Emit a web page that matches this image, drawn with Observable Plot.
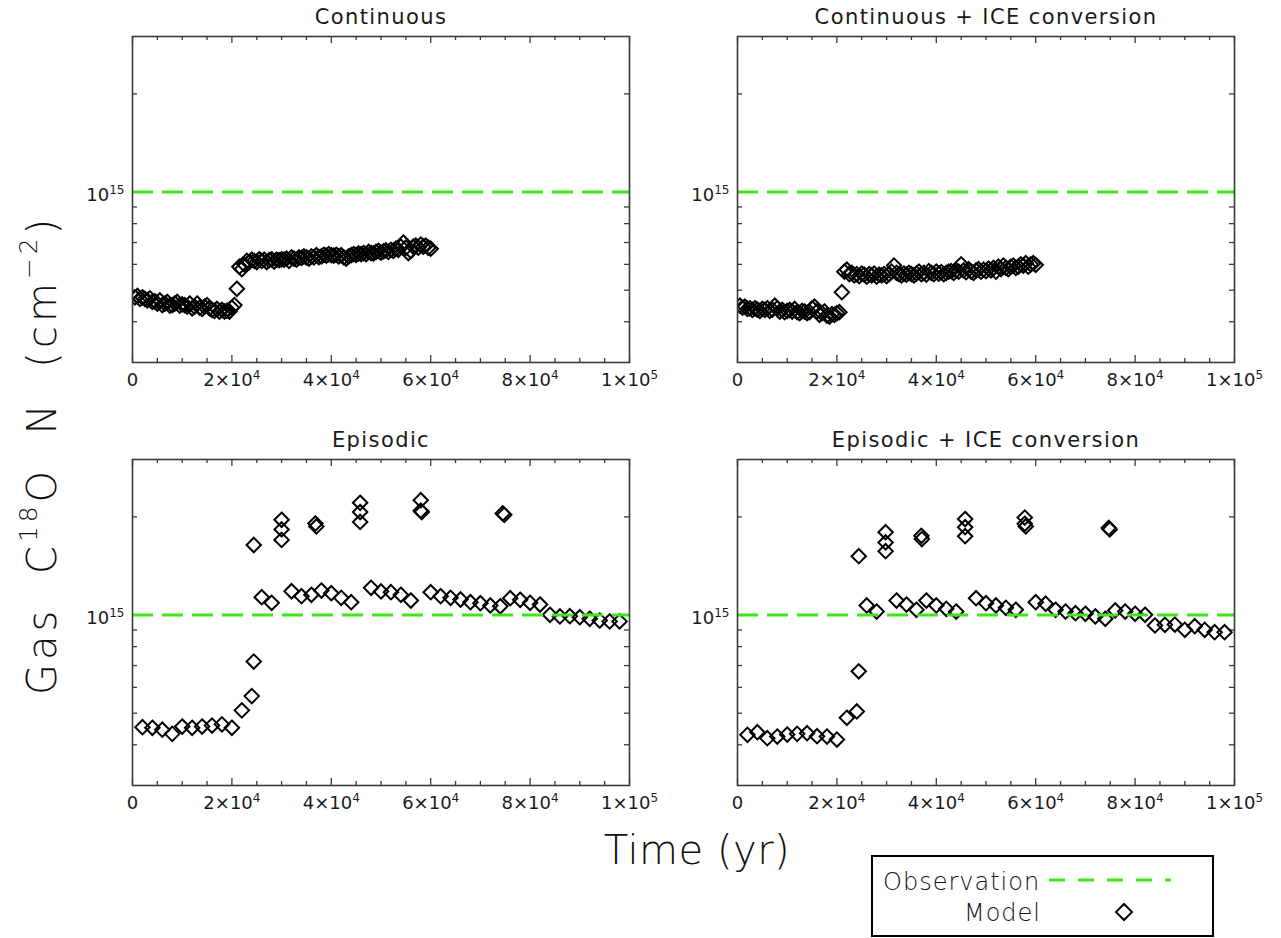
<!DOCTYPE html>
<html><head><meta charset="utf-8">
<script src="https://cdn.jsdelivr.net/npm/d3@7"></script>
<script src="https://cdn.jsdelivr.net/npm/@observablehq/plot@0.6"></script>
<style>
body{margin:0;background:#fff;}
#wrap{position:relative;width:1281px;height:938px;overflow:hidden;font-family:"DejaVu Sans",sans-serif;font-weight:200;color:#111;}
.panel{position:absolute;}
.panel svg text, svg.panel text{font-weight:400;}
.ptitle{letter-spacing:1.4px;}
.lab{position:absolute;white-space:nowrap;font-weight:200;}
.lab sup{font-size:0.62em;vertical-align:0.75em;line-height:0;}
</style></head><body><div id="wrap"></div>
<script>
// ---------- data ----------
const panelTitles = ["Continuous", "Continuous + ICE conversion", "Episodic", "Episodic + ICE conversion"];
const obsLevel = 1e15;           // observed column density
const unit = 1e14;               // model values below are in units of 1e14 cm^-2

// continuous runs: model sampled every 500 yr from 500 to 60000 yr
const contTimes = d3.range(500, 60001, 500);
const contValues = [
  4.75, 4.8, 4.7, 4.75, 4.7, 4.65, 4.72, 4.6,
  4.62, 4.55, 4.65, 4.5, 4.55, 4.6, 4.48, 4.5, 4.55, 4.6, 4.48, 4.52,
  4.5, 4.45, 4.55, 4.4, 4.45, 4.55, 4.42, 4.38, 4.45, 4.5,
  4.4, 4.35, 4.32, 4.38, 4.3, 4.35, 4.3, 4.33, 4.3, 4.42,
  4.5, 5.05, 5.9, 5.8,
  6.0, 6.15, 6.1, 6.2, 6.15, 6.1, 6.22, 6.15, 6.2, 6.1, 6.18, 6.22, 6.12, 6.2, 6.18, 6.22,
  6.2, 6.25, 6.15, 6.3, 6.25, 6.2, 6.3, 6.28, 6.35, 6.3, 6.25, 6.35, 6.3, 6.4, 6.32, 6.35, 6.42, 6.38, 6.45, 6.4,
  6.38, 6.42, 6.35, 6.4, 6.3, 6.25, 6.35, 6.4, 6.45, 6.42, 6.48, 6.45, 6.5, 6.45, 6.55, 6.5, 6.48, 6.55, 6.6, 6.52,
  6.58, 6.62, 6.55, 6.65, 6.6, 6.7, 6.65, 6.8, 7.0, 6.75,
  6.5, 6.6, 6.8, 6.85, 6.75, 6.9, 6.8, 6.85, 6.75, 6.7
];
const contIceValues = [
  4.48, 4.42, 4.45, 4.38, 4.4, 4.35, 4.4, 4.36,
  4.32, 4.38, 4.35, 4.4, 4.32, 4.36, 4.48, 4.4, 4.3, 4.35, 4.28, 4.32,
  4.35, 4.3, 4.38, 4.28, 4.25, 4.32, 4.3, 4.25, 4.28, 4.4,
  4.45, 4.3, 4.2, 4.25, 4.3, 4.18, 4.15, 4.22, 4.2, 4.25,
  4.28, 4.93, 5.7, 5.78,
  5.6, 5.65, 5.55, 5.6, 5.52, 5.62, 5.58, 5.5, 5.6, 5.55, 5.62, 5.5, 5.58, 5.55, 5.6, 5.52,
  5.6, 5.7, 5.95, 5.65, 5.6, 5.55, 5.62, 5.58, 5.65, 5.6, 5.55, 5.62, 5.7, 5.6, 5.65, 5.58, 5.72, 5.65, 5.6, 5.7,
  5.62, 5.68, 5.6, 5.65, 5.7, 5.72, 5.65, 5.75, 5.7, 6.0, 5.75, 5.68, 5.8, 5.7, 5.65, 5.75, 5.8, 5.7, 5.78, 5.72,
  5.82, 5.75, 5.85, 5.7, 5.9, 5.8, 5.95, 5.85, 5.8, 5.9,
  5.95, 5.85, 5.9, 6.0, 5.95, 6.05, 5.9, 6.0, 6.05, 5.98
];

// episodic runs
const epiTimes = [2000,4000,6000,8000,10000,12000,14000,16000,18000,20000,22000,24000,24400,24400,26000,28000,
  30000,30000,30000,32000,34000,36000,36800,37000,38000,40000,42000,44000,45800,45800,45800,48000,50000,52000,54000,56000,
  58000,58000,58200,60000,62000,64000,66000,68000,70000,72000,74000,74500,74800,76000,78000,80000,82000,84000,86000,88000,
  90000,92000,94000,96000,98000];
const epiValues = [4.53,4.51,4.45,4.32,4.55,4.51,4.55,4.58,4.62,4.51,5.10,5.64,7.20,16.4,11.34,10.9,
  19.6,18.3,17.0,11.83,11.42,11.54,19.1,18.7,11.89,11.67,11.29,10.95,22.1,20.7,19.3,12.12,11.81,11.75,11.54,11.08,
  22.5,20.9,20.7,11.75,11.42,11.29,11.16,10.95,10.87,10.70,10.64,20.5,20.3,11.26,11.14,10.9,10.77,10.02,9.90,9.92,
  9.85,9.74,9.62,9.56,9.56];
const epiIceTimes = [2000,4000,6000,8000,10000,12000,14000,16000,18000,20000,22000,24000,24400,24400,26000,28000,
  29800,29800,29800,32000,34000,36000,37000,37100,38000,40000,42000,44000,45800,45800,45800,48000,50000,52000,54000,56000,
  57800,57800,58000,60000,62000,64000,66000,68000,70000,72000,74000,74700,74900,76000,78000,80000,82000,84000,86000,88000,
  90000,92000,94000,96000,98000];
const epiIceValues = [4.29,4.37,4.19,4.24,4.30,4.32,4.34,4.25,4.24,4.15,4.84,5.06,6.72,15.15,10.70,10.25,
  17.95,16.7,15.7,11.08,10.77,10.38,17.5,17.1,11.08,10.70,10.45,10.25,19.7,18.6,17.45,11.26,10.87,10.70,10.52,10.38,
  19.9,19.05,18.7,10.95,10.83,10.38,10.25,10.13,10.09,9.90,9.74,18.5,18.3,10.33,10.25,10.09,10.02,9.29,9.33,9.35,
  9.01,9.24,9.01,8.86,8.86];

// axes
const xMajorTicks = [0, 20000, 40000, 60000, 80000, 100000];
const xTickLabels = ["0", "2×10⁴", "4×10⁴", "6×10⁴", "8×10⁴", "1×10⁵"];
const xMinorTicks = [5000,10000,15000,25000,30000,35000,45000,50000,55000,65000,70000,75000,85000,90000,95000];
const yMajorTicks = [1e15];
const yTickLabels = ["10¹⁵"];
const yMinorTicks = [4e14,5e14,6e14,7e14,8e14,9e14,2e15];

// ---------- build ----------
const toRows = (ts, vs) => ts.map((t, i) => ({t, v: vs[i] * unit}));
const series = [toRows(contTimes, contValues), toRows(contTimes, contIceValues),
                toRows(epiTimes, epiValues), toRows(epiIceTimes, epiIceValues)];

const FW = 497, FH = 326;
const frameCol = "#3a3a3a", green = "#3fe61a";
const layout = [
  {left: 0,   top: 0,   width: 640, ml: 132, mr: 11, mt: 36, mb: 38},
  {left: 640, top: 0,   width: 641, ml: 97,  mr: 47, mt: 36, mb: 38},
  {left: 0,   top: 420, width: 640, ml: 132, mr: 11, mt: 39, mb: 35},
  {left: 640, top: 420, width: 641, ml: 97,  mr: 47, mt: 39, mb: 35}
];
const wrap = document.getElementById("wrap");

function ticks(values, len) {
  return [
    Plot.ruleX(values, {x: d => d, insetTop: FH - len, stroke: frameCol, strokeWidth: 1.3}),
    Plot.ruleX(values, {x: d => d, insetBottom: FH - len, stroke: frameCol, strokeWidth: 1.3}),
  ];
}
function yticks(values, len) {
  return [
    Plot.ruleY(values, {y: d => d, insetRight: FW - len, stroke: frameCol, strokeWidth: 1.3}),
    Plot.ruleY(values, {y: d => d, insetLeft: FW - len, stroke: frameCol, strokeWidth: 1.3}),
  ];
}

// turn unicode superscript digits in tick labels into raised tspans
const supMap = {"⁰":"0","¹":"1","²":"2","³":"3","⁴":"4","⁵":"5","⁶":"6","⁷":"7","⁸":"8","⁹":"9"};
function supify(svg) {
  svg.querySelectorAll("text").forEach(t => {
    const s = t.textContent;
    if (![...s].some(c => supMap[c])) return;
    const chars = [...s];
    const base = chars.filter(c => !supMap[c]).join("");
    const sup = chars.filter(c => supMap[c]).map(c => supMap[c]).join("");
    t.textContent = "";
    const ns = "http://www.w3.org/2000/svg";
    const a = document.createElementNS(ns, "tspan"); a.textContent = base;
    const b = document.createElementNS(ns, "tspan"); b.textContent = sup;
    b.setAttribute("font-size", "12");
    b.setAttribute("dy", "-7");
    t.appendChild(a); t.appendChild(b);
  });
}

layout.forEach((L, k) => {
  const chart = Plot.plot({
    width: L.width, height: 400,
    marginLeft: L.ml, marginRight: L.mr, marginTop: L.mt, marginBottom: L.mb,
    x: {domain: [0, 100000]},
    y: {type: "log", domain: [3e14, 3e15]},
    style: {fontFamily: "'DejaVu Sans', sans-serif", fontSize: "18px", color: "#1a1a1a", overflow: "visible", background: "transparent"},
    marks: [
      Plot.axisX(xMajorTicks, {tickSize: 0, tickPadding: 11, label: null, fontSize: 18, fill: "#1a1a1a",
        tickFormat: d => xTickLabels[xMajorTicks.indexOf(d)]}),
      Plot.axisY(yMajorTicks, {tickSize: 0, tickPadding: 8, label: null, fontSize: 18, fill: "#1a1a1a", dy: 3,
        tickFormat: d => yTickLabels[yMajorTicks.indexOf(d)]}),
      ...ticks(xMinorTicks, 4), ...ticks(xMajorTicks, 7),
      ...yticks(yMinorTicks, 5), ...yticks(yMajorTicks, 9),
      Plot.dot(series[k], {x: "t", y: "v", symbol: "diamond2", r: 6.5, stroke: "#000", strokeWidth: 2, fill: "none", clip: true}),
      Plot.ruleY([obsLevel], {stroke: green, strokeWidth: 3, strokeDasharray: "21,9"}),
      Plot.frame({stroke: frameCol, strokeWidth: 1.6}),
      Plot.text([panelTitles[k]], {text: d => d, frameAnchor: "top", lineAnchor: "middle", dy: -19, fontSize: 21, fill: "#1a1a1a", className: "ptitle"})
    ]
  });
  supify(chart);
  chart.classList.add("panel");
  chart.style.left = L.left + "px";
  chart.style.top = L.top + "px";
  wrap.appendChild(chart);
});

// axis titles
const xl = document.createElement("div");
xl.className = "lab";
xl.style.cssText = "left:697px;top:850px;transform:translate(-50%,-50%);font-size:40px;letter-spacing:0.5px;";
xl.textContent = "Time (yr)";
wrap.appendChild(xl);

const yl = document.createElement("div");
yl.className = "lab";
yl.style.cssText = "left:42px;top:455px;transform:translate(-50%,-50%) rotate(-90deg);font-size:40px;letter-spacing:4px;word-spacing:16px;";
yl.innerHTML = "Gas C<sup>18</sup>O N (cm<sup>−2</sup>)";
wrap.appendChild(yl);

// legend
const lg = document.createElement("div");
lg.style.cssText = "position:absolute;left:871px;top:855px;width:343px;height:82px;box-sizing:border-box;border:2px solid #000;";
lg.innerHTML =
  '<div class="lab" style="left:10px;top:25px;transform:translateY(-50%);font-size:24px;letter-spacing:1px;">Observation</div>' +
  '<div class="lab" style="right:171px;top:56px;transform:translateY(-50%);font-size:24px;letter-spacing:1px;">Model</div>' +
  '<svg style="position:absolute;left:0;top:0" width="339" height="78">' +
  '<line x1="176" x2="298" y1="23" y2="23" stroke="' + green + '" stroke-width="3" stroke-dasharray="16,13"/>' +
  '<path d="M251,47 L259,55 L251,63 L243,55 Z" fill="none" stroke="#000" stroke-width="2"/></svg>';
wrap.appendChild(lg);
</script>
</body></html>
